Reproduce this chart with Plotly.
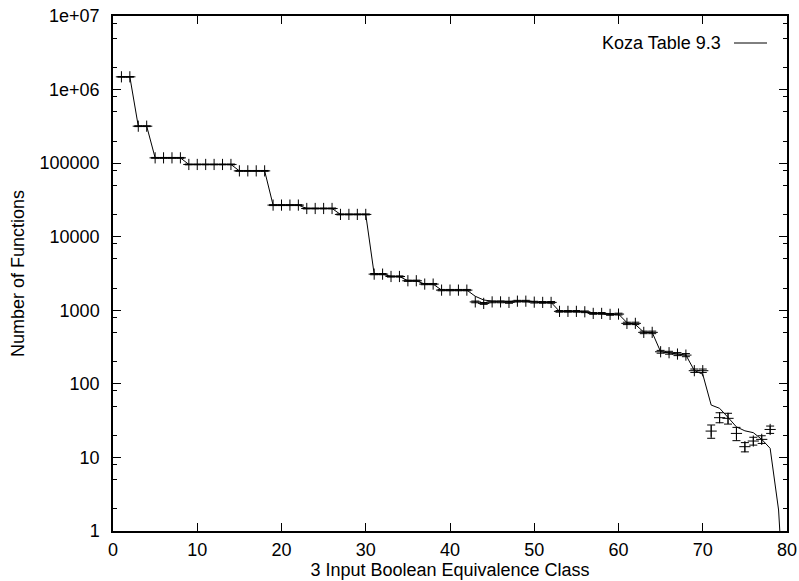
import plotly.graph_objects as go

# ---- data ----
classes = list(range(1, 79))
measured = [1490000, 1490000, 318000, 318000,
            118000, 118000, 118000, 118000,
            96000, 96000, 96000, 96000, 96000, 96000,
            78500, 78500, 78500, 78500,
            26900, 26900, 26900, 26900,
            24200, 24200, 24200, 24200,
            20100, 20100, 20100, 20100,
            3100, 3100, 2880, 2880, 2520, 2520, 2270, 2270,
            1880, 1880, 1880, 1880,
            1300, 1240, 1300, 1300, 1280, 1330, 1330, 1290, 1280, 1280,
            967, 967, 967, 954, 907, 907, 880, 888,
            664, 664, 501, 501, 273, 265, 254, 246, 151, 151,
            22.8, 34.7, 34.0, 21.2, 14.0, 16.7, 17.6, 24.0]
err_plus = [15000, 15000, 4000, 4000, 1500, 1500, 1500, 1500,
            1200, 1200, 1200, 1200, 1200, 1200, 1000, 1000, 1000, 1000,
            400, 400, 400, 400, 350, 350, 350, 350, 300, 300, 300, 300,
            60, 60, 55, 55, 50, 50, 45, 45, 40, 40, 40, 40,
            35, 35, 35, 35, 35, 35, 35, 35, 35, 35,
            25, 25, 25, 25, 25, 25, 25, 25,
            25, 25, 20, 20, 12, 12, 12, 12, 8, 8,
            4.8, 5.8, 5.8, 4.4, 1.9, 2.1, 2.1, 2.7]
err_minus = [15000, 15000, 4000, 4000, 1500, 1500, 1500, 1500,
             1200, 1200, 1200, 1200, 1200, 1200, 1000, 1000, 1000, 1000,
             400, 400, 400, 400, 350, 350, 350, 350, 300, 300, 300, 300,
             60, 60, 55, 55, 50, 50, 45, 45, 40, 40, 40, 40,
             35, 35, 35, 35, 35, 35, 35, 35, 35, 35,
             25, 25, 25, 25, 25, 25, 25, 25,
             25, 25, 20, 20, 12, 12, 12, 12, 8, 8,
             4.6, 5.1, 5.6, 4.3, 2.1, 2.0, 2.1, 2.8]

koza_x = list(range(1, 80)) + [79.3]
koza_y = [1490000, 1490000, 318000, 318000,
          118000, 118000, 118000, 118000,
          96000, 96000, 96000, 96000, 96000, 96000,
          78500, 78500, 78500, 78500,
          26900, 26900, 26900, 26900,
          24200, 24200, 24200, 24200,
          20100, 20100, 20100, 20100,
          3100, 3100, 2880, 2880, 2520, 2520, 2270, 2270,
          1880, 1880, 1880, 1880,
          1550, 1380, 1330, 1320, 1320, 1330, 1330, 1300, 1280, 1280,
          967, 967, 967, 954, 907, 907, 880, 888,
          680, 640, 505, 500, 273, 265, 254, 246, 152, 135,
          51.5, 46.5, 35.0, 26.0, 23.0, 21.7, 17.6, 13.3, 1.93, 0.5]

y_tickvals = [1, 10, 100, 1000, 10000, 100000, 1000000, 10000000]
y_ticktext = ["1", "10", "100", "1000", "10000", "100000", "1e+06", "1e+07"]
y_minor = [m * 10 ** k for k in range(0, 7) for m in (2, 5, 8)]
x_tickvals = [0, 10, 20, 30, 40, 50, 60, 70, 80]

FONT = "Liberation Sans, Arial, Helvetica, sans-serif"
FS = 18

fig = go.Figure()
fig.add_trace(go.Scatter(
    x=koza_x, y=koza_y, mode="lines", name="Koza Table 9.3",
    line=dict(color="black", width=1), showlegend=False))
fig.add_trace(go.Scatter(
    x=classes, y=measured, mode="markers", showlegend=False,
    marker=dict(symbol="cross-thin", size=8, color="black",
                line=dict(color="black", width=1)),
    error_y=dict(type="data", symmetric=False, array=err_plus,
                 arrayminus=err_minus, width=4, thickness=1, color="black")))

axis_common = dict(showline=True, linecolor="black", linewidth=1.5,
                   mirror="allticks", ticks="inside", tickcolor="black",
                   tickwidth=1, ticklen=8, showgrid=False, zeroline=False,
                   automargin=False,
                   tickfont=dict(family=FONT, size=FS, color="black"))

fig.update_xaxes(range=[0, 80], tickvals=x_tickvals, ticklabelstandoff=2,
                 title=dict(text="3 Input Boolean Equivalence Class",
                            font=dict(family=FONT, size=FS, color="black"),
                            standoff=1),
                 **axis_common)
fig.update_yaxes(type="log", range=[0, 7], tickvals=y_tickvals,
                 ticktext=y_ticktext, ticklabelstandoff=8,
                 minor=dict(tickvals=y_minor, ticks="inside", ticklen=4,
                            tickcolor="black", tickwidth=1),
                 title=dict(text="Number of Functions",
                            font=dict(family=FONT, size=FS, color="black"),
                            standoff=10),
                 **axis_common)

# gnuplot-style key: text on the left, line sample on the right
fig.add_annotation(xref="paper", yref="paper", x=(723 - 113) / 674,
                   y=(531 - 43) / 515, xanchor="right", yanchor="middle",
                   text="Koza Table 9.3", showarrow=False,
                   font=dict(family=FONT, size=FS, color="black"))
fig.add_shape(type="line", xref="paper", yref="paper",
              x0=(734 - 113) / 674, x1=(767 - 113) / 674,
              y0=(531 - 43) / 515, y1=(531 - 43) / 515,
              line=dict(color="black", width=1))

fig.update_layout(width=799, height=581, plot_bgcolor="white",
                  paper_bgcolor="white",
                  margin=dict(l=113, r=12, t=16, b=50),
                  font=dict(family=FONT, size=FS, color="black"))

fig.write_html("out.html")
